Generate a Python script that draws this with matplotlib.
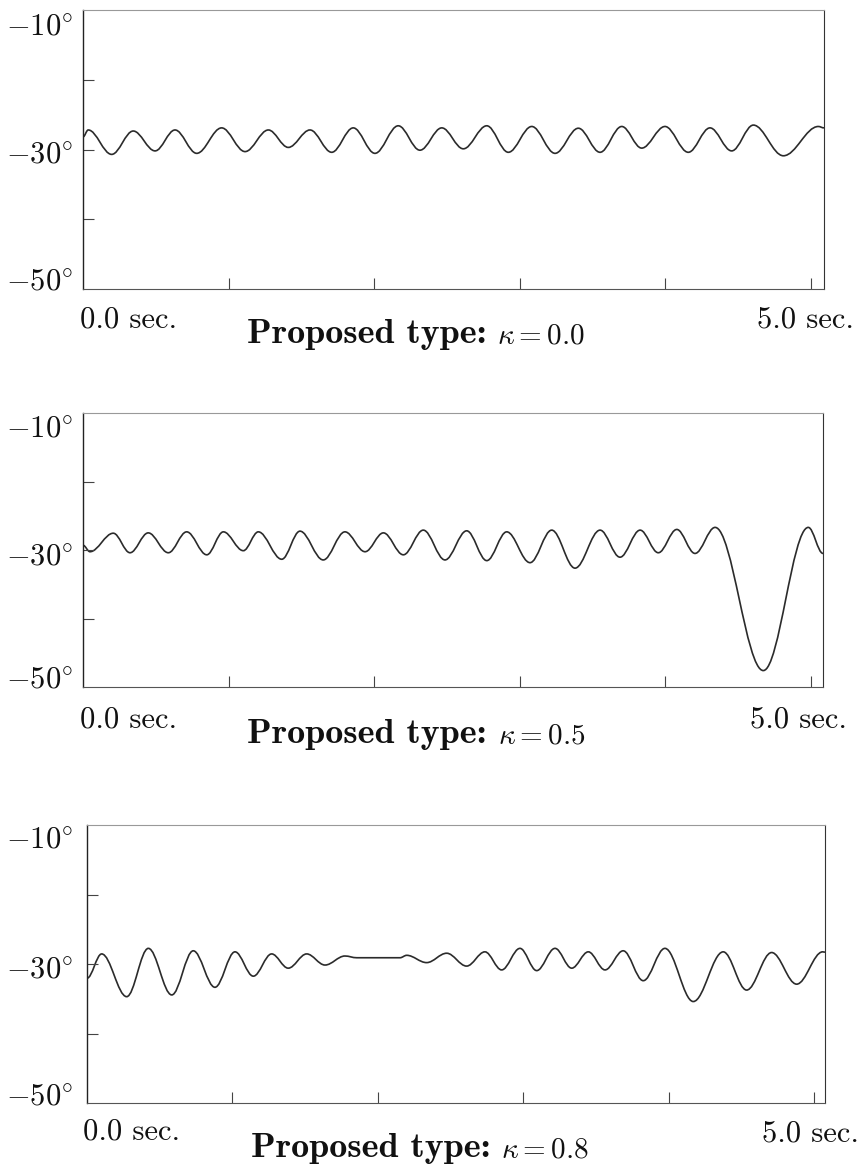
import numpy as np
import matplotlib
matplotlib.use("Agg")
import matplotlib.pyplot as plt
from matplotlib.path import Path
from matplotlib.patches import PathPatch

plt.rcParams["mathtext.fontset"] = "cm"

# Turning points of the body angle (time in sec, angle in degrees)
t_k00 = [0.000, 0.036, 0.197, 0.345, 0.495, 0.632, 0.781, 0.952, 1.113, 1.273,
         1.410, 1.559, 1.708, 1.856, 2.005, 2.165, 2.314, 2.464, 2.612, 2.773,
         2.921, 3.082, 3.242, 3.402, 3.551, 3.700, 3.837, 3.997, 4.157, 4.306,
         4.455, 4.604, 4.810, 5.050, 5.089]
a_k00 = [-28.2, -27.2, -30.7, -27.35, -30.2, -27.2, -30.55, -26.9, -30.3, -27.2,
         -29.7, -27.2, -30.4, -26.9, -30.55, -26.6, -30.1, -26.9, -29.9, -26.6,
         -30.4, -26.7, -30.55, -26.95, -30.4, -26.7, -29.8, -26.7, -30.4, -26.9,
         -30.2, -26.5, -30.9, -26.7, -26.9]

t_k05 = [0.000, 0.048, 0.208, 0.323, 0.448, 0.586, 0.712, 0.850, 0.964, 1.101,
         1.204, 1.365, 1.490, 1.650, 1.799, 1.937, 2.063, 2.200, 2.337, 2.486,
         2.635, 2.773, 2.910, 3.070, 3.219, 3.379, 3.551, 3.688, 3.826, 3.951,
         4.078, 4.203, 4.341, 4.672, 4.981, 5.082]
a_k05 = [-29.3, -30.25, -27.55, -30.4, -27.5, -30.4, -27.35, -30.7, -27.35, -30.1,
         -27.35, -31.35, -27.25, -31.45, -27.35, -30.25, -27.5, -30.7, -27.1, -31.45,
         -27.2, -31.55, -27.35, -31.85, -27.1, -32.65, -27.1, -31.05, -27.1, -30.4,
         -27.0, -30.5, -26.7, -47.6, -26.7, -30.5]

t_k08 = [0.000, 0.101, 0.273, 0.422, 0.583, 0.731, 0.880, 1.018, 1.144, 1.270,
         1.384, 1.511, 1.637, 1.774, 1.855, 2.153, 2.199, 2.336, 2.474, 2.611,
         2.737, 2.852, 2.978, 3.093, 3.219, 3.334, 3.448, 3.563, 3.688, 3.826,
         3.975, 4.170, 4.376, 4.537, 4.709, 4.881, 5.060, 5.076]
a_k08 = [-32.05, -28.55, -34.7, -27.75, -34.45, -28.1, -33.35, -28.25, -31.75, -28.55,
         -30.6, -28.55, -30.15, -28.85, -29.1, -29.1, -28.75, -29.8, -28.45, -30.3,
         -28.25, -30.85, -27.75, -30.95, -27.75, -30.6, -28.25, -30.85, -28.1, -32.4,
         -27.75, -35.4, -28.25, -33.75, -28.35, -32.9, -28.25, -28.3]

kappas = ["0.0", "0.5", "0.8"]
y_labels = [-10, -30, -50]
x_ticks = [1, 2, 3, 4, 5]
y_ticks = [-20, -30, -40]

W, H = 860, 1168
fig = plt.figure(figsize=(W / 100, H / 100), dpi=100)

# panel boxes in pixels: left, right, top, bottom, x-limit
boxes = [(83, 824, 10, 289, 5.089),
         (83, 823, 413, 687, 5.082),
         (87, 825, 825, 1103, 5.076)]
# text baselines in pixels: y-labels (-10, -30, -50), sec labels, title
ylab_base = [(35, 163, 290), (437, 565, 688), (848, 978, 1105)]
sec_base = [(80, 328, 757, 327), (80, 728, 750, 728), (83, 1140, 762, 1142)]
title_pos = [(416, 343), (416, 743), (420, 1157)]

series = [(t_k00, a_k00), (t_k05, a_k05), (t_k08, a_k08)]


def curve_path(t, a, k=0.36):
    """Smooth path through successive turning points."""
    verts = [(t[0], a[0])]
    codes = [Path.MOVETO]
    for i in range(len(t) - 1):
        dt = t[i + 1] - t[i]
        verts += [(t[i] + k * dt, a[i]), (t[i + 1] - k * dt, a[i + 1]),
                  (t[i + 1], a[i + 1])]
        codes += [Path.CURVE4] * 3
    return Path(verts, codes)


def fx(px):
    return px / W


def fy(py):
    return 1 - py / H


FS = 22
renderer = fig.canvas.get_renderer()
for i, (box, (t, a)) in enumerate(zip(boxes, series)):
    l, r, tp, bt, xmax = box
    ax = fig.add_axes([fx(l), fy(bt), (r - l) / W, (bt - tp) / H])
    ax.set_xlim(0, xmax)
    ax.set_ylim(-50, -10)
    ax.set_xticks(x_ticks)
    ax.set_yticks(y_ticks)
    ax.set_xticklabels([])
    ax.set_yticklabels([])
    ax.tick_params(direction="in", length=8, width=0.8, color="#444",
                   top=False, right=False)
    ax.spines["left"].set_color("#222")
    ax.spines["left"].set_linewidth(1.0)
    ax.spines["right"].set_color("#333")
    ax.spines["right"].set_linewidth(0.8)
    ax.spines["top"].set_color("#999")
    ax.spines["top"].set_linewidth(0.8)
    ax.spines["bottom"].set_color("#555")
    ax.spines["bottom"].set_linewidth(0.8)

    ax.add_patch(PathPatch(curve_path(t, a), fill=False, edgecolor="#2b2b2b",
                           linewidth=1.2))

    for val, yb in zip(y_labels, ylab_base[i]):
        fig.text(fx(73), fy(yb), r"$%d^{\circ}$" % val, ha="right",
                 va="baseline", fontsize=FS, color="#111")

    x0, y0, x5, y5 = sec_base[i]
    fig.text(fx(x0), fy(y0), "0.0 sec.", family="cmr10", ha="left",
             va="baseline", fontsize=FS, color="#111")
    fig.text(fx(x5), fy(y5), "5.0 sec.", family="cmr10", ha="left",
             va="baseline", fontsize=FS, color="#111")

    # bold caption followed by the gain value, centred as one line
    cx, ty = title_pos[i]
    t_word = fig.text(0, fy(ty), "Proposed type:", family="cmb10",
                      ha="left", va="baseline", fontsize=26, color="#111")
    t_math = fig.text(0, fy(ty), r"$\kappa = %s$" % kappas[i], ha="left",
                      va="baseline", fontsize=21, color="#111")
    wb = t_word.get_window_extent(renderer).width
    wm = t_math.get_window_extent(renderer).width
    gap = 11
    start = cx - (wb + gap + wm) / 2
    t_word.set_x(fx(start))
    t_math.set_x(fx(start + wb + gap))

fig.savefig("out.png", dpi=100, facecolor="white")
